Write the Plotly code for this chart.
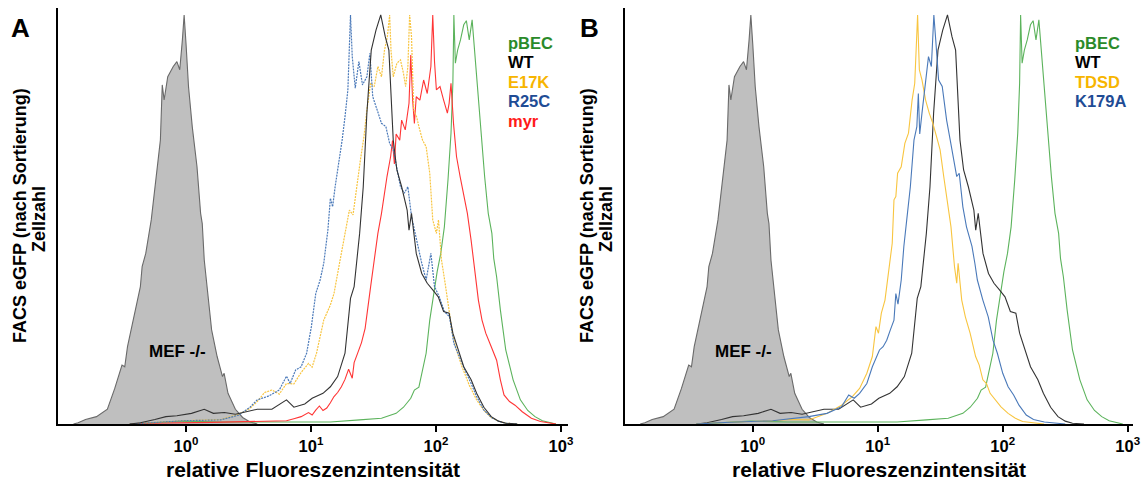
import plotly.graph_objects as go

# ---------------- data (x given as log10 of relative fluorescence, y in % of peak) -------------
mef_logx = [-0.90, -0.863, -0.804, -0.716, -0.629, -0.570, -0.512, -0.490, -0.468, -0.424, -0.365, -0.351,
            -0.322, -0.278, -0.234, -0.205, -0.190, -0.175, -0.146, -0.102, -0.073, -0.050, -0.029, -0.015,
            0.0, 0.020, 0.050, 0.088, 0.117, 0.130, 0.146, 0.175, 0.205, 0.249, 0.292, 0.305, 0.336, 0.395,
            0.453, 0.512, 0.570]
mef_y = [0, 0.3, 1.1, 1.8, 3.6, 8.7, 14.4, 14.0, 18.9, 25.0, 33.6, 38.5,
         41.7, 49.9, 61.3, 69.4, 82.9, 79.2, 84.9, 87.4, 88.6, 86.6, 93.9, 100,
         93.1, 82.5, 72.7, 62.9, 51.5, 49.0, 40.1, 32.0, 23.0, 16.5, 11.6, 12.4, 7.5, 3.6,
         1.6, 0.5, 0.0]

wt_logx = [-0.45, -0.365, -0.249, -0.161, -0.073, 0.044, 0.146, 0.219, 0.307, 0.395, 0.482, 0.570,
           0.687, 0.804, 0.863, 0.950, 1.009, 1.096, 1.155, 1.213, 1.272, 1.316, 1.345, 1.389, 1.418,
           1.447, 1.482, 1.520, 1.558, 1.594, 1.623, 1.640, 1.658, 1.687, 1.725, 1.769, 1.784, 1.804,
           1.842, 1.886, 1.930, 1.974, 2.018, 2.061, 2.105, 2.135, 2.178, 2.222, 2.281, 2.325, 2.383,
           2.442, 2.500, 2.558, 2.65]
wt_y = [0, 0.3, 1.1, 1.8, 2.0, 2.6, 3.6, 2.6, 2.8, 2.4, 3.0, 3.6,
        3.6, 5.9, 4.1, 4.9, 6.3, 7.5, 9.1, 11.6, 17.3, 30.7, 33.6, 46.6, 58.0,
        76.0, 91.4, 96.3, 100, 94.7, 91.4, 80.0, 69.4, 62.1, 58.0, 52.3, 47.4, 51.5,
        41.7, 36.8, 34.4, 32.8, 31.1, 27.5, 27.1, 22.2, 18.1, 14.0, 10.8, 7.5, 4.1,
        1.8, 0.7, 0.2, 0]

pbec_logx = [-0.45, -0.307, -0.015, 0.278, 0.570, 0.863, 1.155, 1.389, 1.564, 1.681, 1.740, 1.798,
             1.827, 1.863, 1.892, 1.921, 1.950, 1.980, 2.009, 2.038, 2.067, 2.096, 2.120, 2.135,
             2.143, 2.155, 2.173, 2.196, 2.222, 2.243, 2.266, 2.289, 2.310, 2.330, 2.360, 2.389,
             2.418, 2.447, 2.462, 2.485, 2.515, 2.558, 2.617, 2.675, 2.734, 2.792, 2.851, 2.909, 2.96]
pbec_y = [0, 0.2, 0.7, 0.5, 0.5, 0.4, 0.5, 1.0, 1.4, 2.6, 4.1, 6.3,
          8.3, 9.0, 13.2, 17.3, 25.4, 31.9, 37.2, 41.7, 48.2, 59.7, 71.1, 83.3,
          100, 88.2, 91.4, 93.9, 97.6, 98.6, 93.9, 98.8, 90.6, 82.5, 71.1, 60.5,
          51.5, 46.6, 40.5, 36.0, 27.9, 18.1, 10.8, 5.9, 3.3, 1.8, 0.8, 0.3, 0]

e17k_logx = [-0.45, -0.307, -0.015, 0.278, 0.424, 0.512, 0.570, 0.629, 0.687, 0.746, 0.804, 0.863,
             0.921, 0.980, 1.009, 1.044, 1.073, 1.102, 1.155, 1.184, 1.213, 1.243, 1.272, 1.307,
             1.336, 1.365, 1.395, 1.424, 1.447, 1.477, 1.506, 1.535, 1.564, 1.588, 1.611, 1.629,
             1.640, 1.658, 1.687, 1.716, 1.740, 1.757, 1.775, 1.789, 1.804, 1.822, 1.845, 1.863,
             1.892, 1.921, 1.950, 1.974, 2.003, 2.020, 2.044, 2.073, 2.102, 2.131, 2.164, 2.208,
             2.266, 2.325, 2.383, 2.442, 2.500, 2.558, 2.65]
e17k_y = [0, 0.3, 0.8, 1.1, 2.4, 3.8, 5.5, 7.7, 8.3, 7.3, 9.9, 9.8,
          12.6, 14.8, 13.9, 17.3, 21.4, 25.4, 29.1, 31.9, 36.8, 41.7, 47.4, 52.3,
          51.1, 58.0, 64.5, 70.3, 76.8, 83.3, 82.5, 87.4, 84.9, 91.4, 94.7, 100,
          91.4, 84.9, 88.2, 89.0, 85.7, 82.5, 87.4, 100, 94.7, 76.8, 75.1, 72.7,
          69.4, 67.8, 61.3, 49.9, 46.6, 49.9, 40.1, 34.4, 28.7, 22.2, 18.1, 14.0,
          9.5, 5.9, 3.3, 1.6, 0.7, 0.2, 0]

r25c_logx = [-0.45, -0.307, -0.015, 0.278, 0.424, 0.512, 0.570, 0.658, 0.746, 0.804, 0.833, 0.877,
             0.921, 0.965, 1.003, 1.038, 1.073, 1.102, 1.135, 1.155, 1.173, 1.193, 1.219, 1.249,
             1.272, 1.295, 1.316, 1.330, 1.354, 1.383, 1.412, 1.447, 1.471, 1.494, 1.529, 1.564,
             1.599, 1.629, 1.658, 1.687, 1.716, 1.746, 1.775, 1.804, 1.842, 1.886, 1.921, 1.959,
             1.988, 2.026, 2.067, 2.108, 2.143, 2.184, 2.231, 2.281, 2.325, 2.383, 2.442, 2.500,
             2.558, 2.65]
r25c_y = [0, 0.3, 0.8, 1.0, 2.2, 4.1, 5.9, 6.8, 8.3, 11.7, 9.9, 13.2,
          14.0, 17.3, 23.8, 31.9, 35.2, 39.3, 47.4, 55.2, 53.1, 58.0, 62.9, 69.4,
          75.1, 81.7, 100, 89.8, 82.1, 88.6, 82.9, 84.9, 90.6, 80.0, 76.8, 73.5,
          72.7, 68.6, 67.0, 62.9, 58.0, 56.4, 58.0, 50.7, 45.0, 39.3, 35.2, 41.7,
          33.6, 31.1, 27.5, 26.2, 19.7, 16.5, 13.2, 9.9, 6.7, 3.4, 1.6, 0.7,
          0.2, 0]

myr_logx = [-0.45, -0.3, 0.2, 0.6, 0.804, 0.863, 0.921, 0.980, 1.009, 1.038, 1.067, 1.096,
            1.126, 1.155, 1.184, 1.213, 1.243, 1.272, 1.301, 1.330, 1.345, 1.374, 1.404, 1.433,
            1.462, 1.477, 1.506, 1.535, 1.564, 1.579, 1.608, 1.637, 1.652, 1.667, 1.681, 1.710,
            1.725, 1.754, 1.784, 1.798, 1.813, 1.827, 1.842, 1.871, 1.901, 1.930, 1.959, 1.974,
            1.988, 2.003, 2.032, 2.061, 2.091, 2.105, 2.120, 2.140, 2.164, 2.193, 2.222, 2.251,
            2.281, 2.310, 2.339, 2.368, 2.398, 2.442, 2.485, 2.515, 2.544, 2.588, 2.632, 2.690,
            2.763, 2.836, 2.9, 2.96]
myr_y = [0, 0.2, 0.4, 0.6, 0.8, 1.3, 1.8, 2.8, 2.2, 3.4, 4.4, 3.3,
         3.9, 5.2, 6.7, 7.7, 9.1, 10.9, 13.4, 11.2, 15.0, 17.4, 19.9, 23.4,
         31.1, 33.6, 40.1, 46.6, 51.5, 54.8, 60.5, 65.4, 69.3, 63.6, 70.9, 69.4,
         74.3, 71.9, 78.4, 90.2, 79.2, 73.5, 80.0, 79.2, 84.1, 80.8, 87.4, 100,
         88.6, 81.7, 82.5, 79.2, 76.0, 78.4, 83.3, 73.5, 65.4, 60.5, 56.4, 51.5,
         44.9, 36.8, 30.3, 25.4, 22.2, 18.9, 15.6, 10.8, 7.1, 5.5, 4.6, 3.0,
         1.4, 0.6, 0.2, 0]

tdsd_logx = [-0.45, -0.275, 0.159, 0.304, 0.449, 0.594, 0.710, 0.797, 0.855, 0.913, 0.957, 0.986,
             1.006, 1.029, 1.058, 1.087, 1.116, 1.130, 1.145, 1.159, 1.188, 1.217, 1.246, 1.275,
             1.296, 1.319, 1.333, 1.354, 1.383, 1.412, 1.441, 1.470, 1.499, 1.528, 1.557, 1.586,
             1.614, 1.632, 1.643, 1.672, 1.701, 1.739, 1.783, 1.812, 1.841, 1.870, 1.899, 1.942,
             1.986, 2.043, 2.101, 2.159, 2.246, 2.33]
tdsd_y = [0, 0.3, 0.8, 1.1, 1.0, 2.6, 4.6, 6.7, 8.7, 12.4, 16.5, 23.8,
          22.2, 27.1, 30.3, 36.8, 44.2, 54.8, 55.6, 61.3, 62.9, 68.6, 71.1, 79.2,
          83.3, 100, 86.6, 84.1, 79.2, 76.0, 73.5, 70.3, 67.0, 60.5, 54.8, 48.2,
          38.5, 34.4, 39.3, 30.3, 26.2, 22.2, 16.5, 14.4, 10.8, 9.9, 7.5, 5.9,
          4.2, 2.6, 1.4, 0.6, 0.2, 0]

k179a_logx = [-0.45, -0.275, 0.159, 0.449, 0.594, 0.710, 0.768, 0.812, 0.855, 0.913, 0.957, 0.986,
              1.014, 1.043, 1.072, 1.101, 1.130, 1.145, 1.162, 1.188, 1.209, 1.232, 1.261, 1.290,
              1.313, 1.325, 1.336, 1.354, 1.377, 1.406, 1.429, 1.449, 1.464, 1.487, 1.516, 1.551,
              1.580, 1.609, 1.632, 1.652, 1.681, 1.710, 1.754, 1.777, 1.797, 1.841, 1.884, 1.922,
              1.957, 2.0, 2.043, 2.087, 2.130, 2.188, 2.246, 2.333, 2.420, 2.5]
k179a_y = [0, 0.3, 0.8, 1.8, 2.6, 4.2, 7.1, 6.3, 7.5, 9.9, 14.0, 16.1,
           18.1, 18.9, 20.5, 23.0, 25.4, 31.9, 29.3, 35.2, 43.4, 49.9, 58.0, 69.4,
           72.7, 80.8, 70.9, 76.0, 81.7, 89.8, 87.4, 100, 93.9, 84.1, 82.5, 74.3,
           69.4, 64.5, 60.5, 61.3, 53.1, 48.2, 43.4, 39.3, 35.2, 30.3, 26.2, 20.5,
           17.3, 12.4, 9.1, 7.1, 4.6, 2.2, 1.1, 0.5, 0.2, 0]

tick_vals = [1, 10, 100, 1000]
tick_text = ["<b>10<sup>0</sup></b>", "<b>10<sup>1</sup></b>", "<b>10<sup>2</sup></b>", "<b>10<sup>3</sup></b>"]
legend_a = ["pBEC", "WT", "E17K", "R25C", "myr"]
legend_b = ["pBEC", "WT", "TDSD", "K179A"]

for xs, ys in [(mef_logx, mef_y), (wt_logx, wt_y), (pbec_logx, pbec_y), (e17k_logx, e17k_y),
               (r25c_logx, r25c_y), (myr_logx, myr_y), (tdsd_logx, tdsd_y), (k179a_logx, k179a_y)]:
    assert len(xs) == len(ys), (len(xs), len(ys))

# ---------------- styling ----------------
W, H = 1145, 484
FONT = "Liberation Sans, Arial, Helvetica, sans-serif"
C_GREEN_LINE, C_GREEN_TXT = "#5cb35c", "#2a8a2a"
C_WT = "#333333"
C_YEL_LINE, C_YEL_TXT = "#f8c540", "#f7b500"
C_BLUE_LINE, C_BLUE_TXT = "#4a79b9", "#1f4c95"
C_RED_LINE, C_RED_TXT = "#ff3535", "#ff1a1a"


def px_x(p):
    return p / W


def px_y(p):
    return (H - p) / H


def tx(logs):
    return [10 ** v for v in logs]


fig = go.Figure()


def add_line(logx, y, color, ax, dash="solid", width=1.1, fill=None, fillcolor=None):
    fig.add_trace(go.Scatter(
        x=tx(logx), y=y, mode="lines",
        line=dict(color=color, width=width, dash=dash),
        fill=fill, fillcolor=fillcolor,
        xaxis="x" if ax == 1 else "x2", yaxis="y" if ax == 1 else "y2",
        showlegend=False, hoverinfo="skip"))


# Panel A
add_line(mef_logx, mef_y, "#6a6a6a", 1, fill="tozeroy", fillcolor="#bfbfbf")
add_line(pbec_logx, pbec_y, C_GREEN_LINE, 1)
add_line(myr_logx, myr_y, C_RED_LINE, 1)
add_line(e17k_logx, e17k_y, C_YEL_LINE, 1, dash="2px,1px", width=1.2)
add_line(r25c_logx, r25c_y, C_BLUE_LINE, 1, dash="2px,1px", width=1.2)
add_line(wt_logx, wt_y, C_WT, 1)

# Panel B
add_line(mef_logx, mef_y, "#6a6a6a", 2, fill="tozeroy", fillcolor="#bfbfbf")
add_line(pbec_logx, pbec_y, C_GREEN_LINE, 2)
add_line(wt_logx, wt_y, C_WT, 2)
add_line(tdsd_logx, tdsd_y, C_YEL_LINE, 2)
add_line(k179a_logx, k179a_y, C_BLUE_LINE, 2)

xaxis_common = dict(
    type="log", showgrid=False, zeroline=False, showline=True, linecolor="black", linewidth=2,
    ticks="outside", ticklen=6, tickwidth=2, tickcolor="black", automargin=False,
    tickvals=tick_vals, ticktext=tick_text,
    tickfont=dict(family=FONT, size=16.5, color="black"),
)
yaxis_common = dict(
    range=[0, 101.7], showgrid=False, zeroline=False, showline=True, linecolor="black", linewidth=2,
    showticklabels=False, ticks="", automargin=False,
)
ydom = [px_y(424), px_y(8)]

fig.update_layout(
    width=W, height=H, margin=dict(l=0, r=0, t=0, b=0, autoexpand=False),
    paper_bgcolor="white", plot_bgcolor="white",
    font=dict(family=FONT, color="black"),
    xaxis=dict(domain=[px_x(58.3), px_x(568)], range=[-1.0216, 3.056], anchor="y", **xaxis_common),
    yaxis=dict(domain=ydom, anchor="x", **yaxis_common),
    xaxis2=dict(domain=[px_x(625), px_x(1133)], range=[-1.0216, 3.042], anchor="y2", **xaxis_common),
    yaxis2=dict(domain=ydom, anchor="x2", **yaxis_common),
)

ann = []


def add_text(text, x, y, size, color="black", angle=0, xanchor="center", xref="paper", yref="paper"):
    ann.append(dict(text=text, x=x, y=y, xref=xref, yref=yref, xanchor=xanchor, yanchor="middle",
                    showarrow=False, textangle=angle, font=dict(size=size, family=FONT, color=color)))


# panel letters
add_text("<b>A</b>", px_x(21), px_y(28), 26)
add_text("<b>B</b>", px_x(589), px_y(28), 26)

# y titles
for xa, xb in [(20, 39), (587, 606)]:
    add_text("<b>FACS eGFP (nach Sortierung)</b>", px_x(xa), px_y(216), 18, angle=-90)
    add_text("<b>Zellzahl</b>", px_x(xb), px_y(219), 18, angle=-90)

# x titles
for xc in [313, 879]:
    add_text("<b>relative Fluoreszenzintensität</b>", px_x(xc), px_y(469), 21)

# MEF labels
for xr, yr in [("x", "y"), ("x2", "y2")]:
    add_text("<b>MEF -/-</b>", -0.07, 17.8, 17, xref=xr, yref=yr)

# legends
cols_a = [C_GREEN_TXT, "black", C_YEL_TXT, C_BLUE_TXT, C_RED_TXT]
cols_b = [C_GREEN_TXT, "black", C_YEL_TXT, C_BLUE_TXT]
ys_leg = [42.7, 62.3, 81.7, 101, 120.5]
for lab, col, yy in zip(legend_a, cols_a, ys_leg):
    add_text("<b>%s</b>" % lab, px_x(506), px_y(yy), 16.5, color=col, xanchor="left")
for lab, col, yy in zip(legend_b, cols_b, ys_leg):
    add_text("<b>%s</b>" % lab, px_x(1073), px_y(yy), 16.5, color=col, xanchor="left")

fig.update_layout(annotations=ann)
fig.write_html("out.html",
               config={"displayModeBar": False, "staticPlot": True},
               post_script="document.body.style.margin='0px';document.body.style.overflow='hidden';")
